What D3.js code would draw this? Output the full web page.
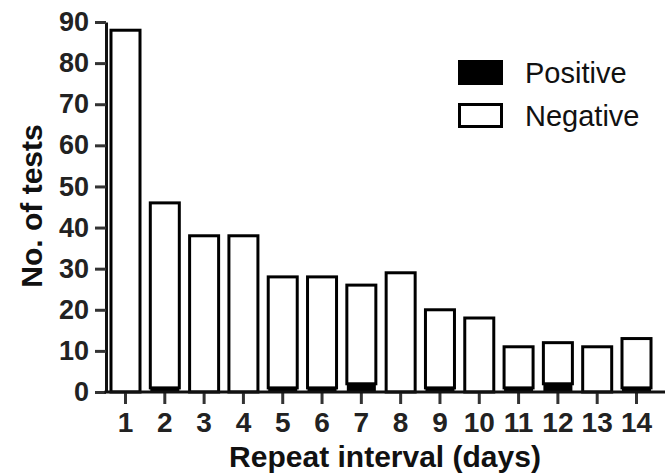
<!DOCTYPE html>
<html><head><meta charset="utf-8">
<script src="https://cdn.jsdelivr.net/npm/d3@7"></script>
<style>body{margin:0;background:#fff}</style>
</head><body>
<svg id="c" width="666" height="476"></svg>
<script>
const categories = ["1","2","3","4","5","6","7","8","9","10","11","12","13","14"];
const positive = [0,1,0,0,1,1,2,0,1,0,1,2,0,1];
const negative = [88,45,38,38,27,27,24,29,19,18,10,10,11,12];
const yTicks = [0,10,20,30,40,50,60,70,80,90];
const seriesNames = ["Positive","Negative"];

const svg = d3.select("#c");
const font = "'Liberation Sans', Arial, sans-serif";
const x = d3.scaleBand().domain(categories).range([106, 656]).paddingInner(0.262).paddingOuter(0.127);
const y = d3.scaleLinear().domain([0, 90]).range([392, 22]);

const data = categories.map((c, i) => ({cat: c, Positive: positive[i], Negative: negative[i]}));
const stack = d3.stack().keys(seriesNames)(data);

const fills = {Positive: "#000", Negative: "#fff"};
stack.forEach(s => {
  svg.append("g").selectAll("rect").data(s).join("rect")
    .attr("x", d => x(d.data.cat))
    .attr("width", x.bandwidth())
    .attr("y", d => y(d[1]))
    .attr("height", d => Math.max(0, y(d[0]) - y(d[1])))
    .attr("fill", fills[s.key])
    .attr("stroke", s.key === "Negative" ? "#000" : "none")
    .attr("stroke-width", 3);
});

// y axis
const yAxis = svg.append("g").attr("transform", "translate(106,0)")
  .call(d3.axisLeft(y).tickValues(yTicks).tickSize(11).tickPadding(6).tickSizeOuter(0));
yAxis.select(".domain").attr("stroke-width", 3).attr("stroke", "#111");
yAxis.selectAll(".tick line").attr("stroke-width", 3).attr("stroke", "#333");
yAxis.selectAll(".tick text").attr("font-family", font).attr("font-size", 27).attr("font-weight", "bold").attr("fill", "#222");

// x axis
const xAxis = svg.append("g").attr("transform", "translate(0,392)")
  .call(d3.axisBottom(x).tickSize(12).tickPadding(8).tickSizeOuter(0));
xAxis.select(".domain").remove();
xAxis.append("line").attr("x1", 104.5).attr("x2", 665).attr("y1", 0).attr("y2", 0)
  .attr("stroke", "#111").attr("stroke-width", 3);
xAxis.selectAll(".tick line").attr("stroke-width", 3).attr("stroke", "#333");
xAxis.selectAll(".tick text").attr("font-family", font).attr("font-size", 28).attr("font-weight", "bold").attr("fill", "#222");

// axis titles
svg.append("text").attr("x", 385).attr("y", 467).attr("text-anchor", "middle")
  .attr("font-family", font).attr("font-size", 30).attr("font-weight", "bold").attr("fill", "#111")
  .text("Repeat interval (days)");
svg.append("text").attr("transform", "translate(42,206) rotate(-90)").attr("text-anchor", "middle")
  .attr("font-family", font).attr("font-size", 30).attr("font-weight", "bold").attr("fill", "#111")
  .text("No. of tests");

// legend
const leg = svg.append("g");
seriesNames.forEach((k, i) => {
  const yy = 61.5 + i * 43;
  leg.append("rect").attr("x", 459.5).attr("y", yy).attr("width", 42).attr("height", 22)
    .attr("fill", fills[k]).attr("stroke", "#000").attr("stroke-width", 3);
  leg.append("text").attr("x", 525).attr("y", yy + 21.5).attr("font-family", font)
    .attr("font-size", 29).attr("fill", "#111").text(k);
});
</script>
</body></html>
